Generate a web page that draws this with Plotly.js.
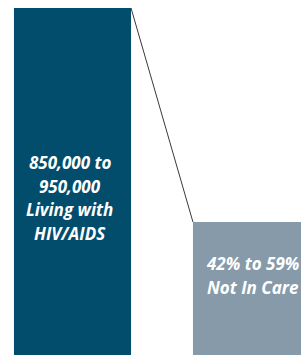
<!DOCTYPE html>
<html>
<head>
<meta charset="utf-8">
<script src="https://cdn.plot.ly/plotly-3.0.1.min.js"></script>
<style>
html,body{margin:0;padding:0;background:#fff;}
#chart{width:301px;height:355px;}
</style>
</head>
<body>
<div id="chart"></div>
<script>
// Data (relative bar heights, first bar = 100)
var categories = [0, 1];
var barHeights = [100, 38.3];
var labelLines = [
  ["850,000 to", "950,000", "Living with", "HIV/AIDS"],
  ["42% to 59%", "Not In Care"]
];

var barColors = ["#014D6B", "#869AA9"];
var barWidth = 0.654;
var halfW = barWidth / 2;

var bars = {
  type: "bar",
  x: categories,
  y: barHeights,
  width: barWidth,
  marker: {color: barColors, line: {width: 0}},
  hoverinfo: "none",
  showlegend: false
};

// connector from top-right of bar 1 to top-left of bar 2
var connector = {
  type: "scatter",
  mode: "lines",
  x: [categories[0] + halfW, categories[1] - halfW],
  y: [barHeights[0], barHeights[1]],
  line: {color: "#3a3a3a", width: 1},
  hoverinfo: "none",
  showlegend: false
};

// Pixel row (from top) of each text line's centre
var lineCentres = [[162, 186, 209, 233], [263, 287]];
var H = 355;
var annotations = [];
labelLines.forEach(function (lines, i) {
  lines.forEach(function (t, j) {
    annotations.push({
      x: categories[i],
      xref: "x",
      xshift: i === 0 ? -3 : 1,
      y: 1 - lineCentres[i][j] / H,
      yref: "paper",
      text: "<b><i>" + t + "</i></b>",
      showarrow: false,
      xanchor: "center",
      yanchor: "middle",
      font: {family: "Open Sans", size: 17, color: "#ffffff"}
    });
  });
});

var layout = {
  width: 301,
  height: 355,
  margin: {l: 0, r: 0, t: 0, b: 0, pad: 0},
  paper_bgcolor: "#ffffff",
  plot_bgcolor: "#ffffff",
  xaxis: {range: [-0.405, 1.2765], visible: false, fixedrange: true},
  yaxis: {range: [0, 102.3], visible: false, fixedrange: true},
  annotations: annotations,
  showlegend: false
};

Plotly.newPlot("chart", [bars, connector], layout, {displayModeBar: false, staticPlot: true});
</script>
</body>
</html>
